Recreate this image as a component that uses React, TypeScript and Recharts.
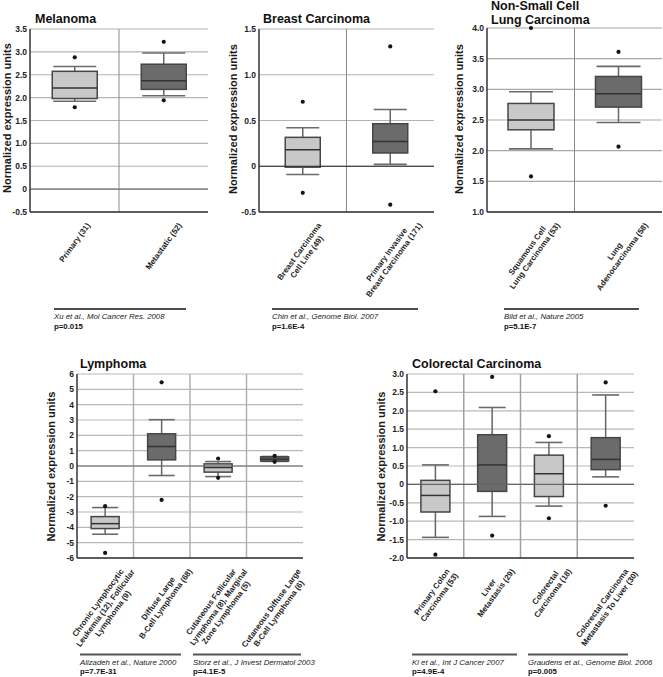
import { Bar, CartesianGrid, ComposedChart, ReferenceLine, XAxis, YAxis } from 'recharts'

const FONT = '"Liberation Sans", Arial, Helvetica, sans-serif'
const LIGHT = '#c8c8c8'
const DARK = '#6b6b6b'
const ANGLE = 54

// stats per group: [low outlier, low whisker, q1, median, q3, high whisker, high outlier]
const melanomaGroups = ['Primary (31)', 'Metastatic (52)']
const melanomaStats = [
  [1.79, 1.92, 1.98, 2.21, 2.575, 2.68, 2.88],
  [1.94, 2.04, 2.18, 2.37, 2.73, 2.975, 3.22],
]
const melanomaTicks = [-0.5, 0, 0.5, 1, 1.5, 2, 2.5, 3, 3.5]

const breastGroups = ['Breast Carcinoma\nCell Line (49)', 'Primary Invasive\nBreast Carcinoma (171)']
const breastStats = [
  [-0.29, -0.09, -0.01, 0.18, 0.316, 0.42, 0.705],
  [-0.42, 0.02, 0.145, 0.27, 0.465, 0.62, 1.31],
]
const breastTicks = [-0.5, 0, 0.5, 1, 1.5]

const lungGroups = ['Squamous Cell\nLung Carcinoma (53)', 'Lung\nAdenocarcinoma (58)']
const lungStats = [
  [1.58, 2.03, 2.34, 2.5, 2.77, 2.96, 4.0],
  [2.065, 2.46, 2.71, 2.93, 3.21, 3.375, 3.61],
]
const lungTicks = [1, 1.5, 2, 2.5, 3, 3.5, 4]

const lymphomaGroups = [
  'Chronic Lymphocytic\nLeukemia (12), Follicular\nLymphoma (9)',
  'Diffuse Large\nB-Cell Lymphoma (68)',
  'Cutaneous Follicular\nLymphoma (8), Marginal\nZone Lymphoma (5)',
  'Cutaneous Diffuse Large\nB-Cell Lymphoma (6)',
]
const lymphomaStats = [
  [-5.67, -4.45, -4.08, -3.76, -3.3, -2.71, -2.62],
  [-2.21, -0.62, 0.4, 1.27, 2.1, 3.02, 5.46],
  [-0.77, -0.69, -0.4, -0.1, 0.14, 0.29, 0.49],
  [0.27, 0.3, 0.32, 0.45, 0.6, 0.62, 0.66],
]
const lymphomaTicks = [-6, -5, -4, -3, -2, -1, 0, 1, 2, 3, 4, 5, 6]

const colorectalGroups = [
  'Primary Colon\nCarcinoma (53)',
  'Liver\nMetastasis (29)',
  'Colorectal\nCarcinoma (18)',
  'Colorectal Carcinoma\nMetastasis To Liver (30)',
]
const colorectalStats = [
  [-1.91, -1.44, -0.75, -0.3, 0.11, 0.53, 2.53],
  [-1.39, -0.87, -0.19, 0.53, 1.35, 2.09, 2.92],
  [-0.92, -0.59, -0.33, 0.29, 0.795, 1.14, 1.31],
  [-0.58, 0.205, 0.4, 0.68, 1.27, 2.43, 2.77],
]
const colorectalTicks = [-2, -1.5, -1, -0.5, 0, 0.5, 1, 1.5, 2, 2.5, 3]

const fmtHalf = (v: number) => (v === 0 ? '0' : v.toFixed(1))
const fmtInt = (v: number) => String(v)

let ctx: CanvasRenderingContext2D | null = null
function textWidth(s: string, font: string) {
  if (!ctx && typeof document !== 'undefined') ctx = document.createElement('canvas').getContext('2d')
  if (!ctx) return s.length * 4.6
  ctx.font = font
  return ctx.measureText(s).width
}

function BoxShape(props: any) {
  const { x, y, width, height, payload } = props
  if (!payload || !height) return null
  const k = height / (payload.hi - payload.lo)
  const py = (v: number) => y + (payload.hi - v) * k
  const cx = x + width / 2
  return (
    <g>
      <line x1={cx} x2={cx} y1={py(payload.ch)} y2={py(payload.q3)} stroke="#666" strokeWidth={1.5} />
      <line x1={cx} x2={cx} y1={py(payload.q1)} y2={py(payload.cl)} stroke="#666" strokeWidth={1.5} />
      <line x1={x + 1} x2={x + width - 1} y1={py(payload.ch)} y2={py(payload.ch)} stroke="#6a6a6a" strokeWidth={1.6} />
      <line x1={x + 1} x2={x + width - 1} y1={py(payload.cl)} y2={py(payload.cl)} stroke="#6a6a6a" strokeWidth={1.6} />
      <rect
        x={x}
        y={py(payload.q3)}
        width={width}
        height={py(payload.q1) - py(payload.q3)}
        fill={payload.fill}
        stroke="#464646"
        strokeWidth={1.5}
      />
      <line x1={x} x2={x + width} y1={py(payload.med)} y2={py(payload.med)} stroke="#333" strokeWidth={1.5} />
      <circle cx={cx} cy={py(payload.hi)} r={2.1} fill="#151515" />
      <circle cx={cx} cy={py(payload.lo)} r={2.1} fill="#151515" />
    </g>
  )
}

function XTick(props: any) {
  const { x, y, payload } = props
  const lines = String(payload.value).split('\n')
  const size = 8
  const font = `bold ${size}px ${FONT}`
  const lh = 9.2
  const th = (ANGLE * Math.PI) / 180
  let minTop = 0
  const offs = lines.map((s, i) => {
    const yi = (i - (lines.length - 1) / 2) * lh
    const w = textWidth(s, font)
    const top = -(w / 2) * Math.sin(th) + (yi - lh / 2) * Math.cos(th)
    if (top < minTop) minTop = top
    return yi
  })
  const cy = y + 9 - minTop
  return (
    <g transform={`translate(${x},${cy}) rotate(-${ANGLE})`}>
      <text textAnchor="middle" fontFamily={FONT} fontSize={size} fontWeight="bold" fill="#222">
        {lines.map((s, i) => (
          <tspan key={i} x={0} y={offs[i] + 2.9}>
            {s}
          </tspan>
        ))}
      </text>
    </g>
  )
}

type PanelProps = {
  left: number
  top: number
  width: number
  height: number
  plot: { left: number; top: number; right: number; bottom: number }
  names: string[]
  stats: number[][]
  ticks: number[]
  fmt: (v: number) => string
  gap: string
  hGrid: string
  vGrid: string
  vWidth: number
  zero?: string
}

function Panel(p: PanelProps) {
  const data = p.names.map((name, i) => {
    const s = p.stats[i]
    return { name, lo: s[0], cl: s[1], q1: s[2], med: s[3], q3: s[4], ch: s[5], hi: s[6], fill: i % 2 ? DARK : LIGHT }
  })
  const n = p.names.length
  const domain = [p.ticks[0], p.ticks[p.ticks.length - 1]]
  const plotW = p.plot.right - p.plot.left
  return (
    <div style={{ position: 'absolute', left: p.left, top: p.top }}>
      <ComposedChart
        width={p.width}
        height={p.height}
        data={data}
        margin={{ top: p.plot.top, right: p.width - p.plot.right, left: 0, bottom: 0 }}
        barCategoryGap={p.gap}
      >
        <CartesianGrid vertical={false} stroke={p.hGrid} strokeWidth={1.2} />
        <CartesianGrid
          horizontal={false}
          stroke={p.vGrid}
          strokeWidth={p.vWidth}
          verticalCoordinatesGenerator={(g: any) => {
            const o = g && g.offset && g.offset.width ? g.offset : { left: p.plot.left, width: plotW }
            return p.names.slice(1).map((_, i) => o.left + (o.width * (i + 1)) / n)
          }}
        />
        {p.zero && <ReferenceLine y={0} stroke={p.zero} strokeWidth={1.2} />}
        <XAxis
          dataKey="name"
          height={p.height - p.plot.bottom}
          interval={0}
          tickLine={false}
          tickSize={0}
          tickMargin={0}
          axisLine={{ stroke: '#333', strokeWidth: 1.5 }}
          tick={(t: any) => <XTick {...t} />}
        />
        <XAxis
          xAxisId="top"
          orientation="top"
          dataKey="name"
          height={0}
          tick={false}
          tickLine={false}
          axisLine={{ stroke: '#333', strokeWidth: 1.5 }}
        />
        <YAxis
          width={p.plot.left}
          domain={domain}
          ticks={p.ticks}
          interval={0}
          tickFormatter={p.fmt}
          tickLine={false}
          tickSize={0}
          tickMargin={3}
          axisLine={{ stroke: '#333', strokeWidth: 1.5 }}
          tick={{ fontFamily: FONT, fontSize: 8.5, fontWeight: 'bold', fill: '#222' }}
        />
        <YAxis
          yAxisId="right"
          orientation="right"
          width={0}
          domain={domain}
          tick={false}
          tickLine={false}
          axisLine={{ stroke: '#333', strokeWidth: 1.5 }}
        />
        <Bar dataKey={(d: any) => [d.lo, d.hi]} shape={BoxShape} isAnimationActive={false} />
      </ComposedChart>
    </div>
  )
}

const titles = [
  { text: 'Melanoma', x: 35, y: 23 },
  { text: 'Breast Carcinoma', x: 263, y: 23 },
  { text: 'Non-Small Cell', x: 491, y: 10 },
  { text: 'Lung Carcinoma', x: 491, y: 23.5 },
  { text: 'Lymphoma', x: 80, y: 368 },
  { text: 'Colorectal Carcinoma', x: 412, y: 368 },
]

const yLabels = [
  { x: 6.5, y: 118 },
  { x: 233, y: 119 },
  { x: 459, y: 119 },
  { x: 50.5, y: 466.5 },
  { x: 380.5, y: 466.5 },
]

const sources = [
  { x1: 54, x2: 186, y: 309, ref: 'Xu et al., Mol Cancer Res. 2008', p: 'p=0.015', color: '#111', w: 1.5 },
  { x1: 272, x2: 418, y: 309, ref: 'Chin et al., Genome Biol. 2007', p: 'p=1.6E-4', color: '#111', w: 1.5 },
  { x1: 504, x2: 639, y: 309, ref: 'Bild et al., Nature 2005', p: 'p=5.1E-7', color: '#111', w: 1.5 },
  { x1: 80, x2: 181, y: 654.5, ref: 'Alizadeh et al., Nature 2000', p: 'p=7.7E-31', color: '#555', w: 2 },
  { x1: 193, x2: 301, y: 654.5, ref: 'Storz et al., J Invest Dermatol 2003', p: 'p=4.1E-5', color: '#555', w: 2 },
  { x1: 412, x2: 517, y: 654.5, ref: 'Ki et al., Int J Cancer 2007', p: 'p=4.9E-4', color: '#555', w: 2 },
  { x1: 528, x2: 628, y: 654.5, ref: 'Graudens et al., Genome Biol. 2006', p: 'p=0.005', color: '#555', w: 2 },
]

export default function App() {
  return (
    <div style={{ position: 'absolute', left: 0, top: 0, width: 663, height: 677, background: '#fff', overflow: 'hidden' }}>
      <Panel
        left={0} top={0} width={215} height={300}
        plot={{ left: 30, top: 29, right: 208, bottom: 212 }}
        names={melanomaGroups} stats={melanomaStats} ticks={melanomaTicks} fmt={fmtHalf}
        gap="25%" hGrid="#b4b4b4" vGrid="#8a8a8a" vWidth={1} zero="#777"
      />
      <Panel
        left={215} top={0} width={222} height={300}
        plot={{ left: 44, top: 29, right: 219, bottom: 212 }}
        names={breastGroups} stats={breastStats} ticks={breastTicks} fmt={fmtHalf}
        gap="30%" hGrid="#b4b4b4" vGrid="#8a8a8a" vWidth={1} zero="#222"
      />
      <Panel
        left={437} top={0} width={226} height={300}
        plot={{ left: 50, top: 28, right: 225, bottom: 212 }}
        names={lungGroups} stats={lungStats} ticks={lungTicks} fmt={fmtHalf}
        gap="24%" hGrid="#a8a8a8" vGrid="#8a8a8a" vWidth={1}
      />
      <Panel
        left={0} top={360} width={330} height={317}
        plot={{ left: 77, top: 14, right: 303, bottom: 198 }}
        names={lymphomaGroups} stats={lymphomaStats} ticks={lymphomaTicks} fmt={fmtInt}
        gap="25%" hGrid="#b8b8b8" vGrid="#b0b0b0" vWidth={1.5} zero="#666"
      />
      <Panel
        left={330} top={360} width={333} height={317}
        plot={{ left: 77, top: 14, right: 304, bottom: 198 }}
        names={colorectalGroups} stats={colorectalStats} ticks={colorectalTicks} fmt={fmtHalf}
        gap="24.5%" hGrid="#b8b8b8" vGrid="#a0a0a0" vWidth={1.5} zero="#666"
      />
      <svg width={663} height={677} style={{ position: 'absolute', left: 0, top: 0, pointerEvents: 'none' }}>
        {titles.map((t) => (
          <text key={t.text} x={t.x} y={t.y} fontFamily={FONT} fontSize={12.5} fontWeight="bold" fill="#111">
            {t.text}
          </text>
        ))}
        {yLabels.map((l, i) => (
          <text
            key={i}
            transform={`translate(${l.x},${l.y}) rotate(-90)`}
            textAnchor="middle"
            dominantBaseline="central"
            fontFamily={FONT}
            fontSize={11}
            fontWeight="bold"
            fill="#1a1a1a"
          >
            Normalized expression units
          </text>
        ))}
        {sources.map((s) => (
          <g key={s.ref}>
            <line x1={s.x1} x2={s.x2} y1={s.y} y2={s.y} stroke={s.color} strokeWidth={s.w} />
            <text x={s.x1} y={s.y + 10} fontFamily={FONT} fontSize={7.8} fontStyle="italic" fill="#222">
              {s.ref}
            </text>
            <text x={s.x1} y={s.y + 19.5} fontFamily={FONT} fontSize={7.8} fontWeight="bold" fill="#111">
              {s.p}
            </text>
          </g>
        ))}
      </svg>
    </div>
  )
}
